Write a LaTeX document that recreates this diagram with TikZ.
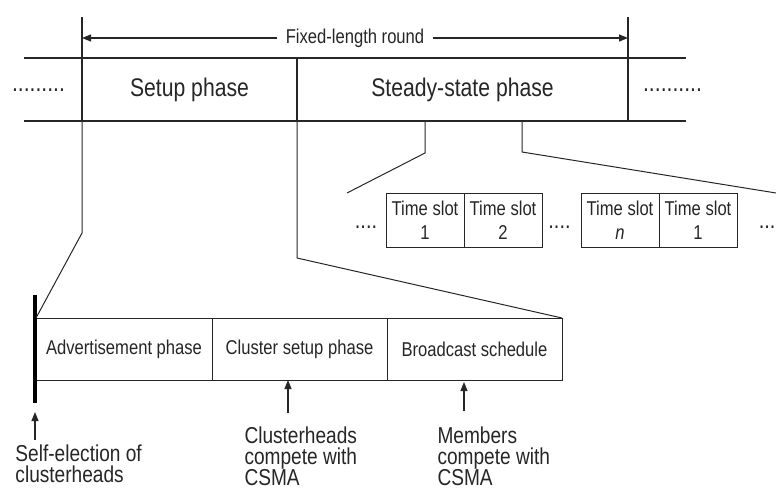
\documentclass[tikz,border=0pt]{standalone}
\usepackage{fontspec}
\setmainfont[FakeStretch=0.83]{Liberation Sans}
\usetikzlibrary{arrows.meta,positioning}

\begin{document}
\begin{tikzpicture}
[ x=1pt, y=-1pt, line width=1pt, color=black!85
, phase/.style={rectangle, draw, line width=1.3pt, inner sep=0pt, outer sep=0pt, minimum height=63pt, font=\fontsize{25.5}{30}\selectfont}
, stage/.style={rectangle, draw, inner sep=0pt, outer sep=0pt, minimum width=175pt, minimum height=62pt, font=\fontsize{20}{24}\selectfont}
, slot/.style={rectangle, draw, inner sep=0pt, outer sep=0pt, minimum width=78pt, minimum height=54pt, align=center, font=\fontsize{20}{24}\selectfont}
, note/.style={anchor=north west, align=left, inner sep=0pt, font=\fontsize{23}{21}\selectfont}
, dotrow/.style={anchor=base, inner sep=0pt}
, point/.style={coordinate}
, tip/.style={-{Triangle[length=9pt, width=7pt]}, line width=1.2pt}
, rule/.style={line width=1.3pt}
]
\useasboundingbox (0,0) rectangle (776,490);
% Round: setup and steady-state
\node (setup) [phase, minimum width=215pt] at (189.5,89.5) {Setup phase};
\node (steady) [phase, minimum width=331pt, right=0pt of setup] {Steady-state phase};
\node (lead) [dotrow, font=\fontsize{25.5}{30}\selectfont] at (38.5,91) {.........};
\node (trail) [dotrow, font=\fontsize{25.5}{30}\selectfont] at (672.5,91) {..........};
\draw [rule] (setup.north west) -- +(-58,0);
\draw [rule] (setup.south west) -- +(-58,0);
\draw [rule] (steady.north east) -- +(58,0);
\draw [rule] (steady.south east) -- +(58,0);
\draw [rule] (setup.north west) -- +(0,-41);
\draw [rule] (steady.north east) -- +(0,-41);
\node (round) [inner xsep=8pt, font=\fontsize{20}{24}\selectfont] at (355,38) {Fixed-length round};
\draw [tip] (round) -- (setup.north west |- round);
\draw [tip] (round) -- (steady.north east |- round);
% Time slots
\node (slot1) [slot] at (425,220) {Time slot\\1};
\node (slot2) [slot, right=0pt of slot1] {Time slot\\2};
\node (slotn) [slot] at (620,220) {Time slot\\\textit{n}};
\node (slotm) [slot, right=0pt of slotn] {Time slot\\1};
\node (gap0) [dotrow, font=\fontsize{24}{28}\selectfont] at (366,228) {....};
\node (gap1) [dotrow, font=\fontsize{24}{28}\selectfont] at (559.5,228) {....};
\node (gap2) [dotrow, anchor=base east, font=\fontsize{24}{28}\selectfont] at (776,228) {...};
\node (kneeS) [point] at (425,153) {};
\node (fanS) [point] at (347,193) {};
\node (kneeT) [point] at (522,152) {};
\node (fanT) [point] at (776,193) {};
\draw (steady.south -| kneeS) -- (kneeS) -- (fanS);
\draw (steady.south -| kneeT) -- (kneeT) -- (fanT);
% Setup phase stages
\node (advert) [stage, minimum width=176pt] at (124,349) {Advertisement phase};
\node (cluster) [stage, right=0pt of advert] {Cluster setup phase};
\node (bcast) [stage, right=0pt of cluster] {Broadcast schedule};
\node (barTop) [point] at (35,295) {};
\node (barEnd) [point] at (35,403) {};
\draw [line width=4pt, color=black] (barTop) -- (barEnd);
\node (kneeA) [point] at (82,233) {};
\node (kneeB) [point] at (297,258) {};
\draw (setup.south west) -- (kneeA) -- (advert.north west);
\draw (setup.south east) -- (kneeB) -- (bcast.north east);
% Notes
\node (elect) [note] at (15,444) {Self-election of\\clusterheads};
\node (chcsma) [note] at (244,426) {Clusterheads\\compete with\\CSMA};
\node (mbcsma) [note] at (437,426) {Members\\compete with\\CSMA};
\node (electTail) [point] at (35,440) {};
\node (chTail) [point] at (288,413) {};
\node (mbTail) [point] at (464,411) {};
\draw [tip, shorten >=9pt] (electTail) -- (barEnd);
\draw [tip] (chTail) -- (chTail |- cluster.south);
\draw [tip, shorten >=2pt] (mbTail) -- (mbTail |- bcast.south);
\end{tikzpicture}
\end{document}
